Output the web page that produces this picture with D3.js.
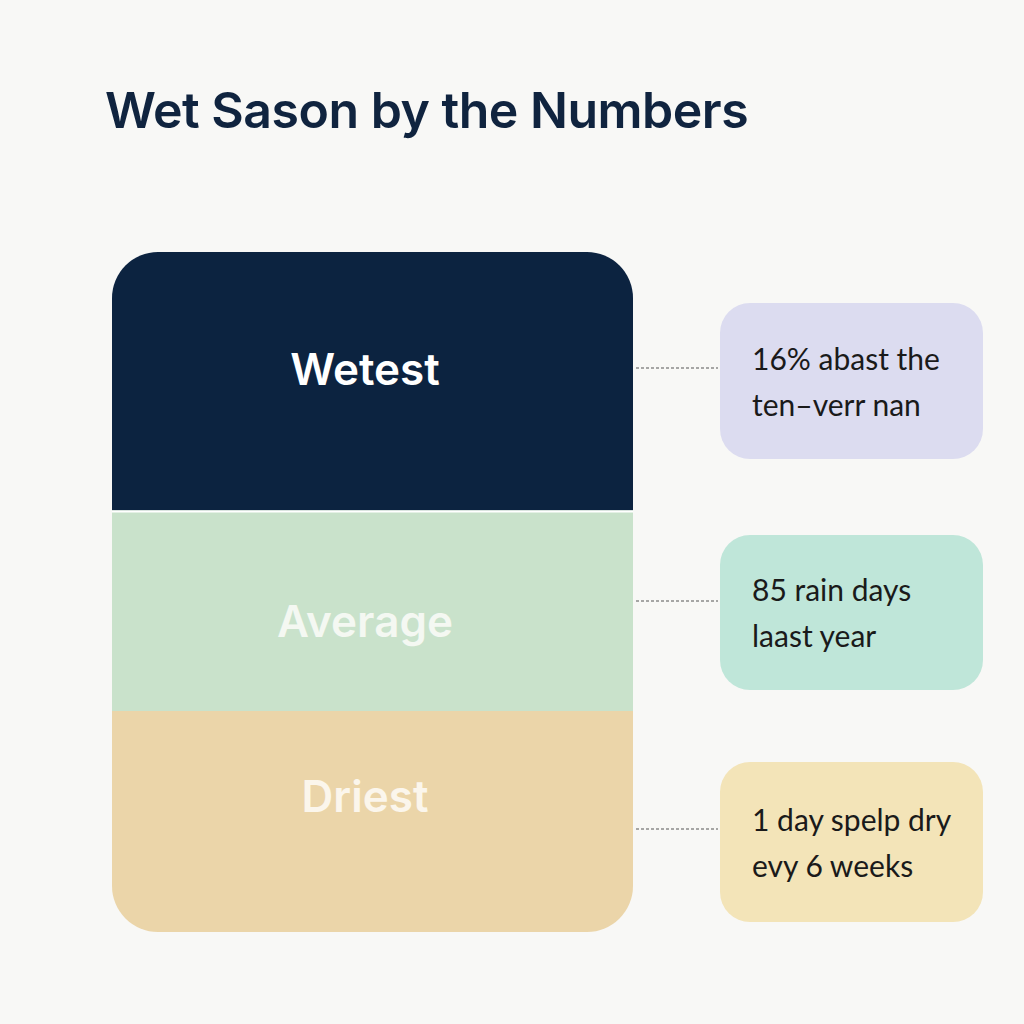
<!DOCTYPE html>
<html><head><meta charset="utf-8">
<script src="https://cdn.jsdelivr.net/npm/d3@7"></script>
<style>body{margin:0;background:#f8f8f6}</style>
</head><body>
<svg id="c" width="1024" height="1024"></svg>
<script>
const title = "Wet Sason by the Numbers";
const categories = ["Wetest", "Average", "Driest"];
const shares = [38, 29.5, 32.5];
const segColors = ["#0c2340", "#c9e2cb", "#ebd5a9"];
const labelColors = ["#ffffff", "#f4f8f2", "#fbf6ec"];
const notes = [["16% abast the", "ten–verr nan"], ["85 rain days", "laast year"], ["1 day spelp dry", "evy 6 weeks"]];
const cardColors = ["#dcdcf0", "#bfe6d9", "#f3e4b8"];

const svg = d3.select("#c");
svg.append("rect").attr("width",1024).attr("height",1024).attr("fill","#f8f8f6");
svg.append("text").attr("x",105).attr("y",128).attr("font-family","Inter, 'Open Sans', sans-serif")
  .attr("font-weight",600).attr("font-size",50).attr("fill","#10243f").attr("letter-spacing",-0.5).text(title);

const x0=112,x1=633,yTop=252,yBot=932;
const cum = [0]; shares.forEach(s=>cum.push(cum[cum.length-1]+s));
const y = d3.scaleLinear().domain([0,d3.sum(shares)]).range([yTop,yBot]);
const defs = svg.append("defs");
defs.append("clipPath").attr("id","clip").append("rect").attr("x",x0).attr("y",yTop)
  .attr("width",x1-x0).attr("height",yBot-yTop).attr("rx",46);
const g = svg.append("g").attr("clip-path","url(#clip)");
g.selectAll("rect").data(categories).join("rect").attr("x",x0).attr("width",x1-x0)
  .attr("y",(d,i)=>y(cum[i])).attr("height",(d,i)=>y(cum[i+1])-y(cum[i])).attr("fill",(d,i)=>segColors[i]);
g.append("line").attr("x1",x0).attr("x2",x1).attr("y1",y(cum[1])+1).attr("y2",y(cum[1])+1).attr("stroke","#fff").attr("stroke-width",2);
const labelY=[370,622,797];
svg.selectAll("text.lab").data(categories).join("text").attr("class","lab")
  .attr("x",365).attr("y",(d,i)=>labelY[i]).attr("dy","0.35em").attr("text-anchor","middle")
  .attr("font-family","Inter, 'Open Sans', sans-serif").attr("font-weight",600).attr("font-size",44)
  .attr("fill",(d,i)=>labelColors[i]).text(d=>d);

const cardY=[[303,459],[535,690],[762,922]];
const connY=[368,601,829];
notes.forEach((n,i)=>{
  svg.append("line").attr("x1",636).attr("x2",718).attr("y1",connY[i]).attr("y2",connY[i])
    .attr("stroke","#555").attr("stroke-width",1).attr("stroke-dasharray","3,2");
  svg.append("rect").attr("x",720).attr("y",cardY[i][0]).attr("width",263).attr("height",cardY[i][1]-cardY[i][0])
    .attr("rx",30).attr("fill",cardColors[i]);
  const mid=(cardY[i][0]+cardY[i][1])/2;
  n.forEach((t,j)=>svg.append("text").attr("x",752).attr("y",mid-22+j*46).attr("dy","0.35em")
    .attr("font-family","Lato, 'Open Sans', sans-serif").attr("font-size",30).attr("fill","#1a1a1a").text(t));
});
</script>
</body></html>
